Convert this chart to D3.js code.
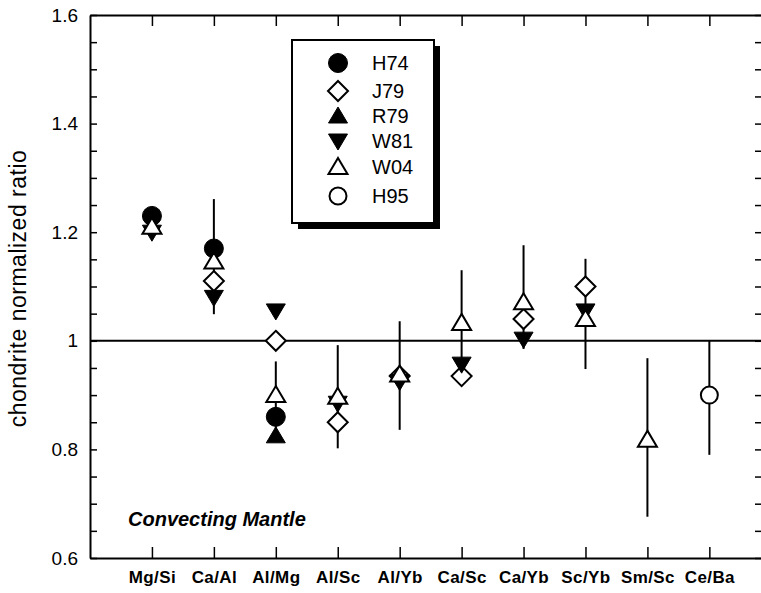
<!DOCTYPE html>
<html>
<head>
<meta charset="utf-8">
<script src="https://cdn.jsdelivr.net/npm/d3@7"></script>
<style>
  body { margin: 0; background: #fff; }
  svg { display: block; font-family: "Liberation Sans", Arial, sans-serif; }
</style>
</head>
<body>
<div class="main-container"></div>
<script>
// ratios, one slot per category (null = no point)
const categories = ["Mg/Si", "Ca/Al", "Al/Mg", "Al/Sc", "Al/Yb", "Ca/Sc", "Ca/Yb", "Sc/Yb", "Sm/Sc", "Ce/Ba"];
const H74 = [1.23, 1.17, 0.86, null, null, null, null, null, null, null];
const J79 = [null, 1.11, 1.00, 0.85, 0.935, 0.935, 1.04, 1.10, null, null];
const R79 = [null, null, 0.825, null, null, null, null, null, null, null];
const W81 = [1.20, 1.08, 1.055, 0.885, 0.925, 0.957, 1.003, 1.055, null, null];
const W04 = [1.21, 1.146, 0.90, 0.897, 0.938, 1.033, 1.071, 1.04, 0.818, null];
const W04lo = [null, 1.049, 0.838, 0.802, 0.836, 0.936, 0.985, 0.948, 0.676, null];
const W04hi = [null, 1.261, 0.962, 0.992, 1.036, 1.130, 1.176, 1.151, 0.968, null];
const H95 = [null, null, null, null, null, null, null, null, null, 0.90];
const H95lo = [null, null, null, null, null, null, null, null, null, 0.79];
const H95hi = [null, null, null, null, null, null, null, null, null, 1.00];
const yMajor = [0.6, 0.8, 1.0, 1.2, 1.4, 1.6];

const width = 761, height = 593;
const mLeft = 90, mTop = 15, mRight = 762, mBottom = 558;

const svg = d3.select(".main-container")
    .append("svg")
    .attr("width", width)
    .attr("height", height);

const x = d3.scaleLinear().domain([0, 10.85]).range([mLeft, mRight]);
const y = d3.scaleLinear().domain([0.6, 1.6]).range([mBottom, mTop]);
const xPos = i => x(i + 1);

const minorTicks = d3.range(0.6, 1.6001, 0.05).map(v => +v.toFixed(2));

// frame axes with inward ticks
svg.append("g")
    .attr("transform", `translate(${mLeft},0)`)
    .call(d3.axisLeft(y).tickValues(minorTicks).tickSizeInner(-7).tickSizeOuter(0).tickFormat(""))
    .call(g => g.select(".domain").attr("stroke-width", 2))
    .call(g => g.selectAll(".tick line").attr("stroke-width", 1.5));

svg.append("g")
    .attr("transform", `translate(${mLeft},0)`)
    .call(d3.axisLeft(y).tickValues(yMajor).tickSize(0).tickPadding(12)
        .tickFormat(d => String(+d.toFixed(1))))
    .call(g => g.select(".domain").remove())
    .call(g => g.selectAll("text").attr("font-size", 19).attr("font-family", "Liberation Sans, Arial, sans-serif"));

svg.append("g")
    .attr("transform", `translate(${mRight},0)`)
    .call(d3.axisRight(y).tickValues(minorTicks).tickSizeInner(-7).tickSizeOuter(0).tickFormat(""))
    .call(g => g.select(".domain").attr("stroke-width", 2))
    .call(g => g.selectAll(".tick line").attr("stroke-width", 1.5));

svg.append("g")
    .attr("transform", `translate(0,${mBottom})`)
    .call(d3.axisBottom(x).tickValues(d3.range(1, 11)).tickSizeInner(-11).tickSizeOuter(0)
        .tickFormat(d => categories[d - 1]).tickPadding(13))
    .call(g => g.select(".domain").attr("stroke-width", 2))
    .call(g => g.selectAll(".tick line").attr("stroke-width", 1.5))
    .call(g => g.selectAll("text").attr("font-size", 17).attr("font-weight", "bold")
        .attr("letter-spacing", "0.4px")
        .attr("font-family", "Liberation Sans, Arial, sans-serif"));

svg.append("g")
    .attr("transform", `translate(0,${mTop})`)
    .call(d3.axisTop(x).tickValues(d3.range(1, 11)).tickSizeInner(-11).tickSizeOuter(0).tickFormat(""))
    .call(g => g.select(".domain").attr("stroke-width", 2))
    .call(g => g.selectAll(".tick line").attr("stroke-width", 1.5));

// y axis title
svg.append("text")
    .attr("transform", `translate(26,${(mTop + mBottom) / 2 + 2}) rotate(-90)`)
    .attr("text-anchor", "middle")
    .attr("font-size", 23)
    .attr("letter-spacing", "0.5px")
    .text("chondrite normalized ratio");

// reference line at 1
svg.append("line")
    .attr("x1", mLeft).attr("x2", mRight)
    .attr("y1", y(1)).attr("y2", y(1))
    .attr("stroke", "#000").attr("stroke-width", 2);

// error bars
const bars = [];
W04.forEach((v, i) => { if (W04lo[i] != null) bars.push({ i, lo: W04lo[i], hi: W04hi[i] }); });
H95.forEach((v, i) => { if (H95lo[i] != null) bars.push({ i, lo: H95lo[i], hi: H95hi[i] }); });
svg.append("g").selectAll("line")
    .data(bars)
    .enter()
    .append("line")
    .attr("x1", d => xPos(d.i)).attr("x2", d => xPos(d.i))
    .attr("y1", d => y(d.lo)).attr("y2", d => y(d.hi))
    .attr("stroke", "#000").attr("stroke-width", 2);

// marker shapes
const shapes = {
    circle: (r) => d3.symbol().type(d3.symbolCircle).size(Math.PI * r * r)(),
    diamond: () => "M0,-10L10,0L0,10L-10,0Z",
    up: () => "M0,-9L9.5,7L-9.5,7Z",
    down: () => "M0,9L9.5,-7L-9.5,-7Z"
};

const series = [
    { name: "J79", vals: J79, path: shapes.diamond(), fill: "#fff" },
    { name: "R79", vals: R79, path: shapes.up(), fill: "#000" },
    { name: "W81", vals: W81, path: shapes.down(), fill: "#000" },
    { name: "H74", vals: H74, path: shapes.circle(9.5), fill: "#000" },
    { name: "H95", vals: H95, path: shapes.circle(8.5), fill: "#fff" },
    { name: "W04", vals: W04, path: shapes.up(), fill: "#fff" }
];

series.forEach(s => {
    svg.append("g").selectAll("path")
        .data(s.vals.map((v, i) => ({ v, i })).filter(d => d.v != null))
        .enter()
        .append("path")
        .attr("d", s.path)
        .attr("transform", d => `translate(${xPos(d.i)},${y(d.v)})`)
        .attr("fill", s.fill)
        .attr("stroke", "#000")
        .attr("stroke-width", s.fill === "#fff" ? 2 : 1);
});

// legend
const legendOrder = ["H74", "J79", "R79", "W81", "W04", "H95"];
const legendY = [63, 91, 116, 141, 167, 196];
const lg = svg.append("g");
lg.append("rect").attr("x", 298).attr("y", 46).attr("width", 142).attr("height", 183).attr("fill", "#000");
lg.append("rect").attr("x", 292).attr("y", 40).attr("width", 142).attr("height", 183)
    .attr("fill", "#fff").attr("stroke", "#000").attr("stroke-width", 2);
legendOrder.forEach((name, k) => {
    const s = series.find(d => d.name === name);
    lg.append("path")
        .attr("d", s.path)
        .attr("transform", `translate(338,${legendY[k]})`)
        .attr("fill", s.fill)
        .attr("stroke", "#000")
        .attr("stroke-width", s.fill === "#fff" ? 2 : 1);
    lg.append("text")
        .attr("x", 372).attr("y", legendY[k] + 7)
        .attr("font-size", 20)
        .text(name);
});

svg.append("text")
    .attr("x", 128).attr("y", 526)
    .attr("font-size", 20)
    .attr("font-weight", "bold")
    .attr("font-style", "italic")
    .text("Convecting Mantle");
</script>
</body>
</html>
